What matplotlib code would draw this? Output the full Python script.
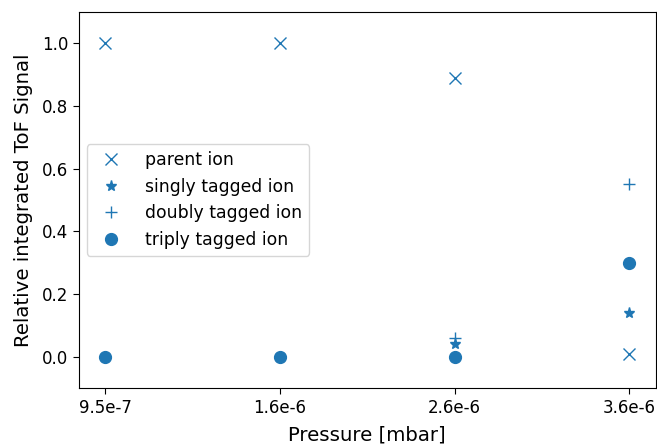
import matplotlib
matplotlib.use('Agg')
import matplotlib.pyplot as plt

pressures = ['9.5e-7', '1.6e-6', '2.6e-6', '3.6e-6']
parent = [1.0, 1.0, 0.89, 0.01]
singly = [0.0, 0.0, 0.04, 0.14]
doubly = [0.0, 0.0, 0.06, 0.55]
triply = [0.0, 0.0, 0.0, 0.30]

fig = plt.figure(figsize=(6.57, 4.45), dpi=100)
ax = fig.add_axes([0.120, 0.128, 0.878, 0.845])

x = range(len(pressures))
ax.plot(x, parent, 'x', color='C0', markersize=8.5, label='parent ion')
ax.plot(x, singly, '*', color='C0', markersize=8, label='singly tagged ion')
ax.plot(x, doubly, '+', color='C0', markersize=9, label='doubly tagged ion')
ax.plot(x, triply, 'o', color='C0', markersize=8.5, label='triply tagged ion')

ax.set_xticks(list(x))
ax.set_xticklabels(pressures)
ax.tick_params(labelsize=12, length=4.2)
ax.set_ylim(-0.1, 1.1)
ax.set_xlabel('Pressure [mbar]', fontsize=14.2, labelpad=6)
ax.set_ylabel('Relative integrated ToF Signal', fontsize=14.2, labelpad=6)
ax.legend(loc='center left', fontsize=12.4, borderaxespad=0.45, handletextpad=1.0)

fig.savefig('out.png', dpi=100)
